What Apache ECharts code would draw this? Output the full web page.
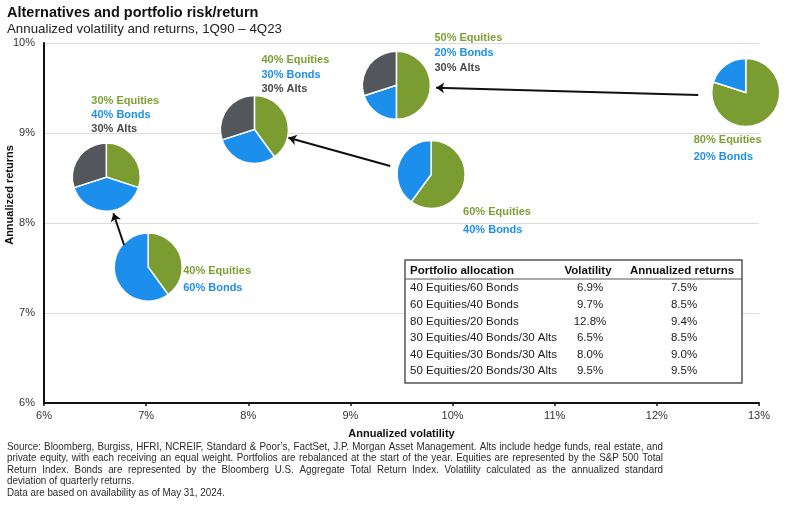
<!DOCTYPE html>
<html><head><meta charset="utf-8">
<script src="https://cdn.jsdelivr.net/npm/echarts@6/dist/echarts.min.js"></script>
<style>html,body{margin:0;padding:0;background:#fff}#c{width:800px;height:507px}</style>
</head><body><div id="c"></div>
<script>
// ---------------- data ----------------
const titleText = 'Alternatives and portfolio risk/return';
const subtitleText = 'Annualized volatility and returns, 1Q90 \u2013 4Q23';
const xAxisTitle = 'Annualized volatility';
const yAxisTitle = 'Annualized returns';
const xMin = 6, xMax = 13, yMin = 6, yMax = 10;

const portfolios = ['40 Equities/60 Bonds', '60 Equities/40 Bonds', '80 Equities/20 Bonds',
  '30 Equities/40 Bonds/30 Alts', '40 Equities/30 Bonds/30 Alts', '50 Equities/20 Bonds/30 Alts'];
const volatility = ['6.9%', '9.7%', '12.8%', '6.5%', '8.0%', '9.5%'];
const annualReturns = ['7.5%', '8.5%', '9.4%', '8.5%', '9.0%', '9.5%'];
const equities = [40, 60, 80, 30, 40, 50];
const bonds = [60, 40, 20, 40, 30, 20];
const alts = [0, 0, 0, 30, 30, 30];
// pie centres as plotted in the picture (volatility %, return %)
const pieVolatility = [7.02, 9.79, 12.87, 6.61, 8.06, 9.45];
const pieReturns = [7.51, 8.54, 9.45, 8.51, 9.04, 9.53];
// arrows as plotted (from -> to), in axis units
const arrowFrom = [[6.784, 7.756], [9.389, 8.633], [12.405, 9.422]];
const arrowTo = [[6.679, 8.108], [8.393, 8.948], [9.839, 9.503]];
const tableHeader = ['Portfolio allocation', 'Volatility', 'Annualized returns'];
const sourceLines = [
  "Source: Bloomberg, Burgiss, HFRI, NCREIF, Standard & Poor\u2019s, FactSet, J.P. Morgan Asset Management. Alts include hedge funds, real estate, and",
  "private equity, with each receiving an equal weight. Portfolios are rebalanced at the start of the year. Equities are represented by the S&P 500 Total",
  "Return Index. Bonds are represented by the Bloomberg U.S. Aggregate Total Return Index. Volatility calculated as the annualized standard",
  "deviation of quarterly returns.",
  "Data are based on availability as of May 31, 2024."
];

// ---------------- styles / layout ----------------
const FONT = '"Liberation Sans", Arial, Helvetica, sans-serif';
const sliceColors = ['#7a9c30', '#1c8fec', '#53575b'];
const labelColors = ['#7f9f35', '#1d8fe8', '#4a4a4a'];
const R = 34;
const labelLayout = [
  {dx: 35, dy: 4, lh: 17.3},
  {dx: 32, dy: 38, lh: 17.6},
  {dx: -52, dy: 47, lh: 17.4},
  {dx: -15, dy: -76, lh: 14},
  {dx: 7, dy: -69, lh: 14.5},
  {dx: 38, dy: -47, lh: 14.7}
];

const chart = echarts.init(document.getElementById('c'), null, {renderer: 'canvas', width: 800, height: 507});

function renderPie(params, api) {
  const i = api.value(2);
  const c = api.coord([api.value(0), api.value(1)]);
  const shares = [equities[i], bonds[i], alts[i]];
  const children = [];
  let a = -Math.PI / 2;
  shares.forEach(function (s, k) {
    if (!s) return;
    const e = a + s / 100 * Math.PI * 2;
    children.push({type: 'sector', shape: {cx: c[0], cy: c[1], r: R, r0: 0, startAngle: a, endAngle: e, clockwise: true},
      style: {fill: sliceColors[k], stroke: '#fff', lineWidth: 1.5}});
    a = e;
  });
  const L = labelLayout[i];
  const texts = [equities[i] + '% Equities', bonds[i] + '% Bonds'];
  if (alts[i]) texts.push(alts[i] + '% Alts');
  texts.forEach(function (t, k) {
    children.push({type: 'text', style: {text: t, x: c[0] + L.dx, y: c[1] + L.dy + k * L.lh,
      fill: labelColors[k], font: 'bold 11px ' + FONT, align: 'left', verticalAlign: 'middle'}});
  });
  return {type: 'group', children: children};
}

// ---------------- table ----------------
const T = {x: 405, y: 260, w: 337, h: 123, headY: 271, sepY: 279, row0: 288.3, rowH: 16.6, c0: 410, c1: 588, c2: 682};
const tableEls = [
  {type: 'rect', shape: {x: T.x, y: T.y, width: T.w, height: T.h}, style: {fill: '#fff', stroke: '#555', lineWidth: 1.5}, z: 10},
  {type: 'line', shape: {x1: T.x, y1: T.sepY, x2: T.x + T.w, y2: T.sepY}, style: {stroke: '#555', lineWidth: 1.2}, z: 11}
];
tableHeader.forEach(function (h, j) {
  tableEls.push({type: 'text', z: 11, style: {text: h, x: [T.c0, T.c1, T.c2][j], y: T.headY, align: j ? 'center' : 'left',
    verticalAlign: 'middle', fill: '#111', font: 'bold 11.5px ' + FONT}});
});
portfolios.forEach(function (p, i) {
  const y = T.row0 + i * T.rowH;
  [p, volatility[i], annualReturns[i]].forEach(function (t, j) {
    tableEls.push({type: 'text', z: 11, style: {text: t, x: [T.c0, T.c1 + 2, T.c2 + 2][j], y: y, align: j ? 'center' : 'left',
      verticalAlign: 'middle', fill: '#1a1a1a', font: '11.5px ' + FONT}});
  });
});

// ---------------- source note (condensed, justified) ----------------
const ctx = document.createElement('canvas').getContext('2d');
function measure(t, f) { ctx.font = f; return ctx.measureText(t).width; }
const SRC_W = 656, SRC_X = 7;
const srcFont = '10.5px ' + FONT;
const srcScale = (SRC_W * 0.985) / measure(sourceLines[0], srcFont);
const srcY = [447, 458.5, 470, 481.5, 493];
const srcEls = [];
sourceLines.forEach(function (line, li) {
  if (li < 3) {
    const words = line.split(' ');
    const widths = words.map(function (w) { return measure(w, srcFont) * srcScale; });
    const sum = widths.reduce(function (a, b) { return a + b; }, 0);
    const gap = (SRC_W - sum) / (words.length - 1);
    let x = SRC_X;
    words.forEach(function (w, k) {
      srcEls.push({type: 'text', x: x, y: srcY[li], scaleX: srcScale,
        style: {text: w, x: 0, y: 0, verticalAlign: 'middle', fill: '#2a2a2a', font: srcFont}});
      x += widths[k] + gap;
    });
  } else {
    srcEls.push({type: 'text', x: SRC_X, y: srcY[li], scaleX: srcScale,
      style: {text: line, x: 0, y: 0, verticalAlign: 'middle', fill: '#2a2a2a', font: srcFont}});
  }
});

const option = {
  backgroundColor: '#fff',
  animation: false,
  grid: {left: 44, right: 41, top: 43, bottom: 104, containLabel: false},
  xAxis: {
    type: 'value', min: xMin, max: xMax, interval: 1,
    name: xAxisTitle, nameLocation: 'middle', nameGap: 25,
    nameTextStyle: {fontFamily: FONT, fontWeight: 'bold', fontSize: 11, color: '#111'},
    axisLine: {show: true, onZero: false, lineStyle: {color: '#111', width: 2}},
    axisTick: {show: true, length: 3, lineStyle: {color: '#111', width: 1.5}},
    axisLabel: {formatter: '{value}%', fontFamily: FONT, fontSize: 11, color: '#333', margin: 7},
    splitLine: {show: false}
  },
  yAxis: {
    type: 'value', min: yMin, max: yMax, interval: 1,
    axisLine: {show: true, onZero: false, lineStyle: {color: '#111', width: 2}},
    axisTick: {show: false},
    axisLabel: {formatter: '{value}%', fontFamily: FONT, fontSize: 11, color: '#333', margin: 9},
    splitLine: {show: true, lineStyle: {color: '#dcdcdc', width: 1}}
  },
  graphic: [
    {type: 'text', style: {text: titleText, x: 7, y: 13, verticalAlign: 'middle', fill: '#111', font: 'bold 14.5px ' + FONT}},
    {type: 'text', style: {text: subtitleText, x: 7, y: 29, verticalAlign: 'middle', fill: '#222', font: '13.3px ' + FONT}},
    {type: 'text', x: 10, y: 195, rotation: Math.PI / 2,
      style: {text: yAxisTitle, x: 0, y: 0, align: 'center', verticalAlign: 'middle', fill: '#111', font: 'bold 11px ' + FONT}},
    {type: 'group', children: tableEls},
    {type: 'group', children: srcEls}
  ],
  series: [
    {
      type: 'lines', coordinateSystem: 'cartesian2d', silent: true, z: 5,
      symbol: ['none', 'arrow'], symbolSize: 8,
      lineStyle: {color: '#111', width: 2, curveness: 0, opacity: 1},
      data: arrowFrom.map(function (f, i) { return {coords: [f, arrowTo[i]]}; })
    },
    {
      type: 'custom', renderItem: renderPie, clip: false, silent: true, z: 4,
      encode: {x: 0, y: 1},
      data: pieVolatility.map(function (v, i) { return [v, pieReturns[i], i]; })
    }
  ]
};
chart.setOption(option);
</script>
</body></html>
